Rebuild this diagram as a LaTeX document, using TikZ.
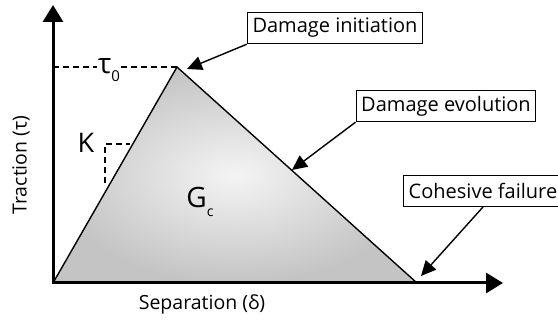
\documentclass[tikz,border=0pt]{standalone}
\usepackage{fontspec}
\setmainfont{Open Sans}
\usetikzlibrary{positioning, arrows.meta, calc}
\usepackage{xcolor}
\definecolor{czinner}{HTML}{F4F4F4}
\definecolor{czouter}{HTML}{C4C4C4}

\newcommand{\fsz}[1]{\fontsize{#1}{#1}\selectfont}

\begin{document}
\begin{tikzpicture}[x=1pt, y=-1pt,
    axisline/.style={line width=3pt, -{Triangle[length=17pt,width=20pt]}},
    callout/.style={draw, line width=1.4pt, fill=white, inner xsep=5pt, inner ysep=3pt, minimum height=31pt, font=\fsz{20}},
    pointer/.style={line width=1.4pt, -{Triangle[length=15pt,width=14pt]}},
    guide/.style={line width=1.2pt, dash pattern=on 6pt off 4pt}]
  \useasboundingbox (0,0) rectangle (558,323);
  \clip (0,0) rectangle (558,323);

  % traction-separation law
  \coordinate (O) at (53,283);
  \coordinate (P) at (177,67);
  \coordinate (F) at (417,283);
  \shade[inner color=czinner, outer color=czouter] (O) -- (P) -- (F) -- cycle;
  \draw[line width=1.4pt, line join=miter] (O) -- (P) -- (F);

  % axes
  \coordinate (ytip) at (53,5);
  \coordinate (xtip) at (503,283);
  \draw[axisline] (53,284.5) -- (ytip);
  \draw[axisline] (51.5,283) -- (xtip);
  \node[rotate=90, font=\fsz{19.5}] (ylab) at (21,165) {Traction (τ)};
  \node[font=\fsz{19.5}] (xlab) at (202,304) {Separation (δ)};

  % labels
  \node[font=\fsz{28}, inner sep=1pt] (tau) at (109,70) {τ\raisebox{-8pt}{\fsz{15}0}};
  \draw[guide] (O |- P) -- (tau.west |- P);
  \draw[guide] (tau.east |- P) -- (P);
  \node[font=\fsz{27}] (kay) at (86,143) {K};
  \coordinate (kcorner) at (105,144);
  \draw[guide] (105,183) -- (kcorner) -- (130,144);
  \node[font=\fsz{28}] (gc) at (200,202) {G\raisebox{-9pt}{\fsz{14}c}};

  % callouts
  \node[callout] (init) at (335,28) {Damage initiation};
  \node[callout] (evol) at (446,106) {Damage evolution};
  \node[callout, anchor=west] (fail) at (403,191) {Cohesive failure};
  \coordinate (initpt) at (187,69);
  \coordinate (evolpt) at (292,170);
  \coordinate (failpt) at (421,276);
  \draw[pointer] (init.south west) -- (initpt);
  \draw[pointer] (evol.south west) -- (evolpt);
  \draw[pointer] (483,207) -- (failpt);
\end{tikzpicture}
\end{document}
